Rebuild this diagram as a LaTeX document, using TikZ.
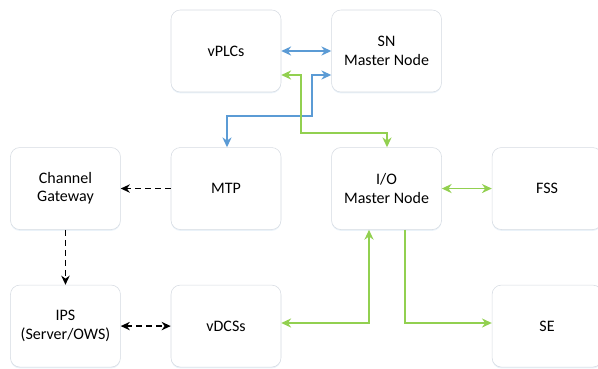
\documentclass[tikz,border=0pt]{standalone}
\usepackage{fontspec}
\setmainfont{Carlito}
\usepackage{tikz}
\usetikzlibrary{arrows.meta,positioning,shadows}
\definecolor{linkblue}{RGB}{91,155,213}
\definecolor{linkgreen}{RGB}{146,208,80}
\definecolor{boxgray}{RGB}{214,219,226}

\begin{document}
\begin{tikzpicture}[
  x=0.75pt, y=-0.75pt,
  node distance=41.25pt and 37.5pt,
  unit/.style={draw=boxgray, rounded corners=7pt, align=center, minimum height=61.5pt, minimum width=82.5pt, font=\fontsize{12}{13.75}\selectfont, fill=white, inner sep=0pt, drop shadow={shadow xshift=0pt, shadow yshift=-1pt, fill=linkblue!25, opacity=0.5}},
  blu/.style={{Stealth[length=2.6mm, width=2.4mm]}-{Stealth[length=2.6mm, width=2.4mm]}, linkblue, line width=1.2pt},
  grn/.style={{Stealth[length=2.6mm, width=2.4mm]}-{Stealth[length=2.6mm, width=2.4mm]}, linkgreen, line width=1.2pt},
  dsh/.style={-{Stealth[length=2.4mm, width=2.2mm]}, dash pattern=on 4.5pt off 3pt, line width=1.2pt},
]
\useasboundingbox (0,0) rectangle (598,368);
\clip (0,0) rectangle (598,368);

\node[unit] (plc) at (226,51) {vPLCs};
\node[unit, right=of plc] (sn) {SN\\Master Node};
\node[unit, below=of plc] (mtp) {MTP};
\node[unit, left=of mtp] (gw) {Channel\\Gateway};
\node[unit, right=of mtp] (io) {I/O\\Master Node};
\node[unit, right=of io] (fss) {FSS};
\node[unit, below=of gw] (ips) {IPS\\(Server/OWS)};
\node[unit, below=of mtp] (dcs) {vDCSs};
\node[unit, below=of fss] (se) {SE};

\coordinate (c1) at (312,75);
\coordinate (c2) at (301,75);
\coordinate (c3) at (369,323);
\coordinate (c4) at (405,323);

% blue links
\draw[blu] (plc) -- (sn);
\draw[blu] (mtp.north -| 227,0) |- (c1 |- 0,116) -- (c1) -- (c1 -| sn.west);
% green links
\draw[grn] (c2 -| plc.east) -- (c2) |- (387,133) -- (387,0 |- io.north);
\draw[grn] (io) -- (fss);
\draw[grn] (dcs.east |- c3) -- (c3) -- (c3 |- io.south);
\draw[-{Stealth[length=2.6mm, width=2.4mm]}, linkgreen, line width=1.2pt] (c4 |- io.south) -- (c4) -- (c4 -| se.west);
% black dashed links
\draw[dsh] (mtp) -- (gw);
\draw[dsh] (gw) -- (ips);
\draw[dsh, {Stealth[length=2.4mm, width=2.2mm]}-{Stealth[length=2.4mm, width=2.2mm]}] (ips) -- (dcs);
\end{tikzpicture}
\end{document}
